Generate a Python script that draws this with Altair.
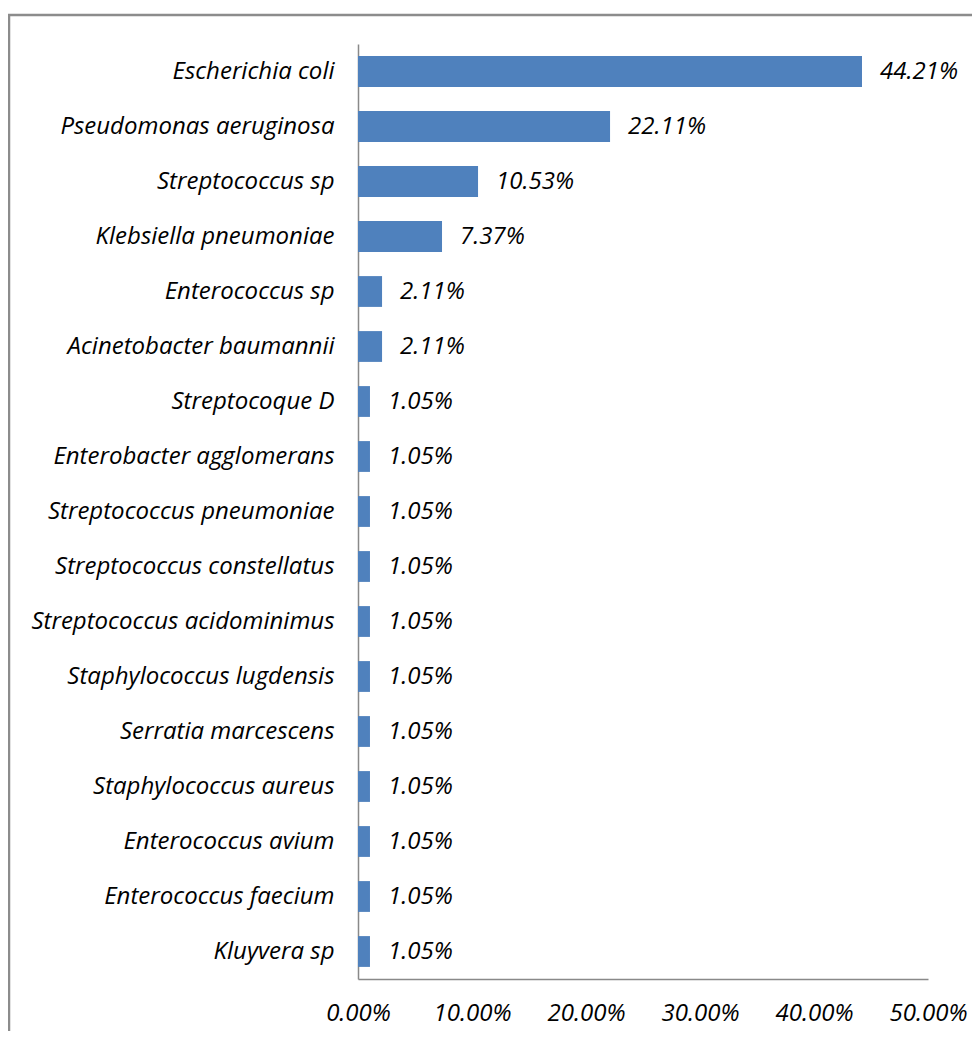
import altair as alt
import pandas as pd

species = [
    "Escherichia coli", "Pseudomonas aeruginosa", "Streptococcus sp",
    "Klebsiella pneumoniae", "Enterococcus sp", "Acinetobacter baumannii",
    "Streptocoque D", "Enterobacter agglomerans", "Streptococcus pneumoniae",
    "Streptococcus constellatus", "Streptococcus acidominimus",
    "Staphylococcus lugdensis", "Serratia marcescens", "Staphylococcus aureus",
    "Enterococcus avium", "Enterococcus faecium", "Kluyvera sp",
]
share = [0.4421, 0.2211, 0.1053, 0.0737, 0.0211, 0.0211, 0.0105, 0.0105,
         0.0105, 0.0105, 0.0105, 0.0105, 0.0105, 0.0105, 0.0105, 0.0105, 0.0105]
x_ticks = [0.0, 0.1, 0.2, 0.3, 0.4, 0.5]

df = pd.DataFrame({"species": species, "share": share})

FONT = "Open Sans"
FS = 24

y_enc = alt.Y(
    "species:N", sort=species, title=None,
    scale=alt.Scale(paddingInner=0.44, paddingOuter=0.22),
    axis=alt.Axis(ticks=False, domainColor="#898989", domainWidth=1.5,
                  labelFont=FONT, labelFontStyle="italic", labelFontSize=FS,
                  labelColor="#000000", labelPadding=24, labelLimit=400),
)
x_enc = alt.X(
    "share:Q", title=None,
    scale=alt.Scale(domain=[0, 0.5], nice=False),
    axis=alt.Axis(values=x_ticks, format=".2%", ticks=False, grid=False,
                  domainColor="#898989", domainWidth=1.5,
                  labelFont=FONT, labelFontStyle="italic", labelFontSize=FS,
                  labelColor="#000000", labelPadding=22, labelFlush=False),
)

base = alt.Chart(df)
bars = base.mark_bar(color="#4F81BD").encode(x=x_enc, y=y_enc)
labels = base.mark_text(
    align="left", baseline="middle", dx=18, font=FONT, fontStyle="italic",
    fontSize=FS, color="#000000",
).encode(x="share:Q", y=alt.Y("species:N", sort=species), text=alt.Text("share:Q", format=".2%"))

frame = alt.Chart(pd.DataFrame({"k": [0]})).mark_rect(
    fillOpacity=0, stroke="#8c8c8c", strokeWidth=2.5
).encode(x=alt.value(-349), x2=alt.value(800), y=alt.value(-29), y2=alt.value(1200))

chart = alt.layer(frame, bars, labels).properties(
    width=570, height=935,
    autosize=alt.AutoSizeParams(type="none"),
    padding={"left": 350, "top": 36, "right": 44, "bottom": 52},
).configure_view(stroke=None)

chart.save("out.html", embed_options={"renderer": "svg", "actions": False})
